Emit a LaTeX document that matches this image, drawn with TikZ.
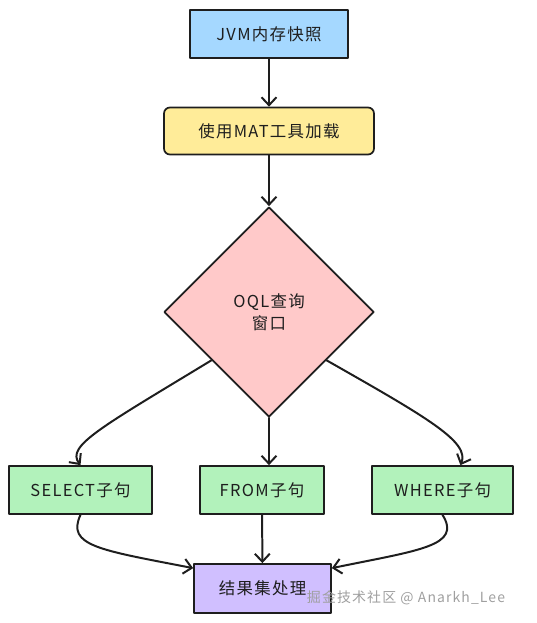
\documentclass[tikz,border=0pt]{standalone}
\usepackage{fontspec}
\setmainfont{Noto Sans CJK SC}[LetterSpace=8]
\usetikzlibrary{shapes.geometric,arrows.meta}
\definecolor{snapblue}{HTML}{A5D8FF}
\definecolor{loadyellow}{HTML}{FFEC99}
\definecolor{oqlpink}{HTML}{FFC9C9}
\definecolor{clausegreen}{HTML}{B2F2BB}
\definecolor{resultpurple}{HTML}{D0BFFF}
\definecolor{inkgray}{HTML}{1E1E1E}

\begin{document}
\begin{tikzpicture}[x=1bp,y=-1bp,line width=1.6pt,>={Straight Barb[length=8pt,width=15pt]},
  line cap=round,line join=round,font=\fontsize{16.5}{22}\selectfont,
  box/.style={draw=inkgray,rectangle,line width=1.7pt,inner sep=0pt,
    minimum height=48bp,text=inkgray},
  clause/.style={box,fill=clausegreen},
  flow/.style={->,draw=inkgray,line width=2pt}]
  \useasboundingbox (0,0) rectangle (537,623);
  % top of the chain
  \node[box,fill=snapblue,minimum width=158bp] (snap) at (269,34) {JVM内存快照};
  \node[box,fill=loadyellow,rounded corners=6pt,minimum width=210bp,
    minimum height=47bp] (load) at (269,131) {使用MAT工具加载};
  \node[diamond,draw=inkgray,line width=1.7pt,fill=oqlpink,inner sep=0pt,
    minimum width=210bp,minimum height=210bp,align=center,text=inkgray]
    (oql) at (269,312) {OQL查询\\窗口};
  % the three clauses
  \node[clause,minimum width=143bp] (select) at (80.5,490) {SELECT子句};
  \node[clause,minimum width=124bp] (from) at (262,490) {FROM子句};
  \node[clause,minimum width=141bp] (where) at (442.5,490) {WHERE子句};
  \node[box,fill=resultpurple,minimum width=137bp,minimum height=49bp]
    (result) at (262.5,588.5) {结果集处理};
  \draw[flow] (snap) -- (load);
  \draw[flow] (load) -- (oql);
  \draw[flow] (oql.-140) .. controls (100,428) and (66,446) .. (select.north);
  \draw[flow] (oql.south) -- (oql.south |- from.north);
  \draw[flow] (oql.-40) .. controls (428,418) and (470,442)
    .. ([xshift=18pt]where.north);
  \draw[flow] (select.south) .. controls (66,546) and (100,550)
    .. ([yshift=-5pt]result.north west);
  \draw[flow] (from) -- (result);
  \draw[flow] (where.south) .. controls (462,546) and (420,550)
    .. ([yshift=-5pt]result.north east);
  \node[text=gray!75,font=\fontsize{14}{16}\selectfont] (mark) at (406,598)
    {掘金技术社区 @ Anarkh\_Lee};
\end{tikzpicture}
\end{document}
